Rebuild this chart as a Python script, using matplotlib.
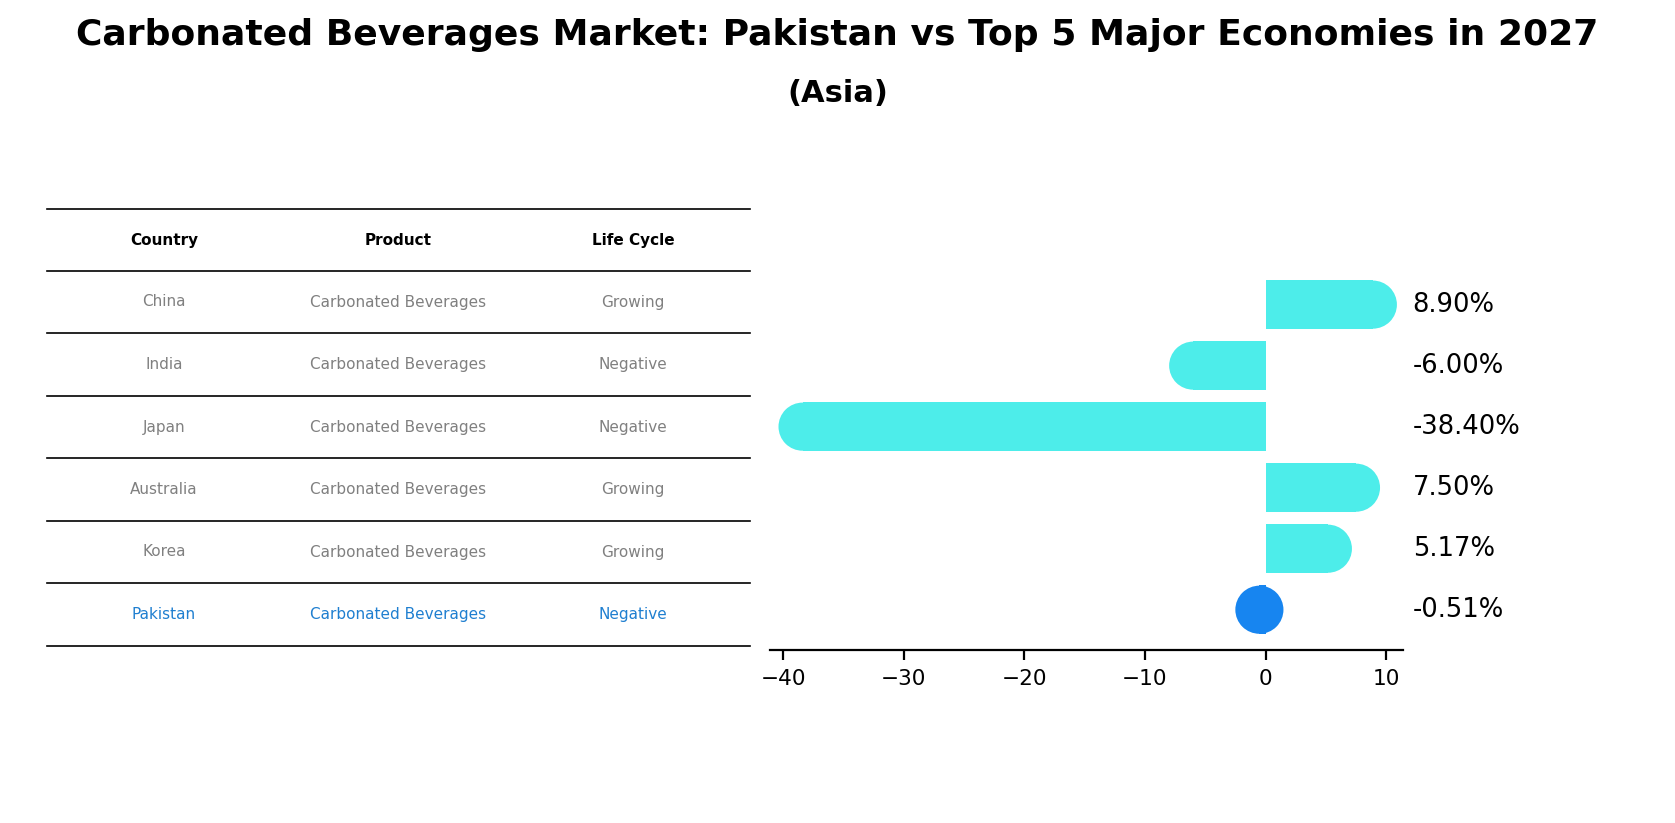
import matplotlib
matplotlib.use("Agg")
import matplotlib.pyplot as plt

countries = ["China", "India", "Japan", "Australia", "Korea", "Pakistan"]
products = ["Carbonated Beverages"] * 6
life_cycle = ["Growing", "Negative", "Negative", "Growing", "Growing", "Negative"]
growth = [8.90, -6.00, -38.40, 7.50, 5.17, -0.51]
headers = ["Country", "Product", "Life Cycle"]

W, H = 1675, 823
fig = plt.figure(figsize=(W / 200, H / 200), dpi=200)
fig.text(0.5, 1 - 35 / H, "Carbonated Beverages Market: Pakistan vs Top 5 Major Economies in 2027",
         ha="center", va="center", fontsize=13, fontweight="bold")
fig.text(0.5, 1 - 93 / H, "(Asia)", ha="center", va="center", fontsize=11, fontweight="bold")

# table
tax = fig.add_axes([0, 0, 1, 1])
tax.set_xlim(0, W); tax.set_ylim(H, 0); tax.axis("off")
lines_y = [209, 271, 333, 396, 458, 521, 583, 646]
for y in lines_y:
    tax.plot([47, 750], [y, y], color="black", lw=0.6)
colx = [164, 398, 633]
for x, h in zip(colx, headers):
    tax.text(x, 240, h, ha="center", va="center", fontsize=5.5, fontweight="bold")
for i, (c, p, l) in enumerate(zip(countries, products, life_cycle)):
    y = (lines_y[i + 1] + lines_y[i + 2]) / 2
    col = "#1f7fd0" if c == "Pakistan" else "#808080"
    for x, t in zip(colx, [c, p, l]):
        tax.text(x, y, t, ha="center", va="center", fontsize=5.5, color=col)

# bars
ax = fig.add_axes([770 / W, 1 - 650 / H, (1403 - 770) / W, (650 - 268) / H])
n = len(countries)
ypos = [n - 1 - i for i in range(n)]
for y, v, c in zip(ypos, growth, countries):
    color = "#1785F0" if c == "Pakistan" else "#4DEDEA"
    ax.barh(y, v, height=0.8, color=color, zorder=2)
    ax.scatter([v], [y], s=300, color=color, edgecolors="none", zorder=3)
    ax.text(12.2, y, f"{v:.2f}%", va="center", ha="left", fontsize=9.3, clip_on=False)
ax.set_xlim(-41.1, 11.4)
ax.set_ylim(-0.66, 5.6)
ax.set_yticks([])
for s in ["top", "right", "left"]:
    ax.spines[s].set_visible(False)
ax.tick_params(axis="x", labelsize=7.8)
ax.set_xticks([-40, -30, -20, -10, 0, 10])
fig.savefig("out.png", dpi=200)
